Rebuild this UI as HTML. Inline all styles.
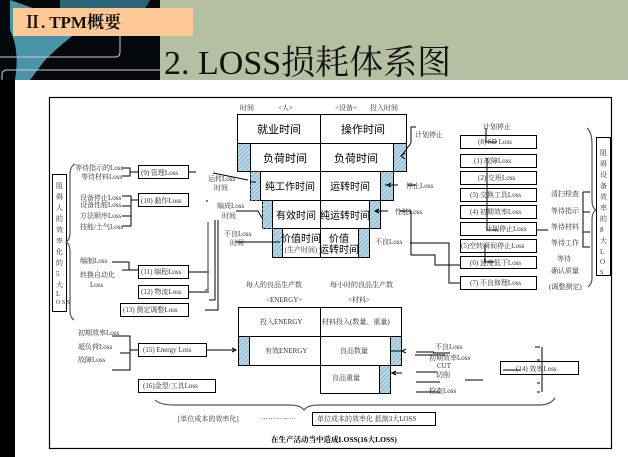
<!DOCTYPE html>
<html><head><meta charset="utf-8"><style>
html,body{margin:0;padding:0;width:628px;height:457px;overflow:hidden;background:#fff}
svg{display:block}
text{font-family:"Liberation Serif","Noto Serif CJK SC",serif;fill:#333}
.s{font-size:7px}
.m{font-size:11px;fill:#000;font-family:"Liberation Sans","Noto Sans CJK SC",sans-serif}
</style></head><body>
<svg width="628" height="457" viewBox="0 0 628 457">
<defs>
<pattern id="h" width="3" height="3" patternUnits="userSpaceOnUse" patternTransform="rotate(45)">
<rect width="3" height="3" fill="#b8d8e8"/><line x1="0" y1="0" x2="0" y2="3" stroke="#6a9ab8" stroke-width="1"/></pattern>
</defs>
<rect x="0" y="0" width="160" height="80" fill="#05080c"/>
<path d="M10 0 Q40 10 60 20 L80 30 Q60 45 45 60 L30 80 L15 80 Q20 50 10 30 Z" fill="#5ab8d0" opacity="0.8"/>
<path d="M60 0 L150 0 Q140 20 120 30 Q80 25 60 10Z" fill="#3a8ca8" opacity="0.7"/>
<path d="M0 57 L115 57 Q120 57 120 52 L120 35" stroke="#ccc" fill="none" stroke-width="1"/>
<path d="M2 80 L2 75 Q2 70 7 70 L160 70" stroke="#ccc" fill="none" stroke-width="1"/>
<rect x="160" y="0" width="468" height="80" fill="#b5c0a2"/>
<rect x="13" y="8" width="180" height="28" fill="#ffc896"/>
<text x="24" y="28" style="font-size:17px;font-weight:bold;fill:#111">Ⅱ. TPM概要</text>
<text x="164" y="74" style="font-size:34px;fill:#111">2. LOSS损耗体系图</text>
<rect x="0" y="80" width="15" height="377" fill="#000"/>
<rect x="49.5" y="97.5" width="562" height="351" fill="none" stroke="#000" stroke-width="1.2"/>
<g stroke="#000" stroke-width="1" fill="none">
<rect x="237.5" y="114.5" width="83" height="29" fill="#fff"/>
<rect x="320.5" y="114.5" width="86" height="29" fill="#fff"/>
<rect x="237.5" y="143.5" width="13" height="28" fill="url(#h)"/>
<rect x="250.5" y="143.5" width="70" height="28" fill="#fff"/>
<rect x="320.5" y="143.5" width="73" height="28" fill="#fff"/>
<rect x="393.5" y="143.5" width="13" height="28" fill="url(#h)"/>
<rect x="250.5" y="171.5" width="10" height="29" fill="url(#h)" stroke-dasharray="3,1"/>
<rect x="260.5" y="171.5" width="60" height="29" fill="#fff"/>
<rect x="320.5" y="171.5" width="60" height="29" fill="#fff"/>
<rect x="380.5" y="171.5" width="13" height="29" fill="url(#h)"/>
<rect x="262.5" y="200.5" width="10" height="28" fill="url(#h)" stroke-dasharray="3,1"/>
<rect x="272.5" y="200.5" width="48" height="28" fill="#fff"/>
<rect x="320.5" y="200.5" width="49" height="28" fill="#fff"/>
<rect x="369.5" y="200.5" width="11" height="28" fill="url(#h)"/>
<rect x="272.5" y="228.5" width="10" height="29" fill="url(#h)"/>
<rect x="282.5" y="228.5" width="38" height="29" fill="#fff"/>
<rect x="320.5" y="228.5" width="38" height="29" fill="#fff"/>
<rect x="358.5" y="228.5" width="11" height="29" fill="url(#h)"/>
<rect x="460.5" y="135.5" width="76" height="13"/>
<rect x="460.5" y="154.5" width="76" height="13"/>
<rect x="460.5" y="171.5" width="76" height="13"/>
<rect x="460.5" y="188.5" width="76" height="13"/>
<rect x="460.5" y="205.5" width="76" height="13"/>
<rect x="460.5" y="222.5" width="76" height="13"/>
<rect x="460.5" y="239.5" width="76" height="13"/>
<rect x="460.5" y="256.5" width="76" height="12"/>
<rect x="460.5" y="276.5" width="76" height="13"/>
<rect x="596.5" y="137.5" width="14" height="138"/>
<rect x="52.5" y="174.5" width="14" height="137"/>
<rect x="138.5" y="165.5" width="50" height="13"/>
<rect x="138.5" y="193.5" width="50" height="13"/>
<rect x="138.5" y="265.5" width="50" height="13"/>
<rect x="138.5" y="285.5" width="50" height="13"/>
<rect x="120.5" y="303.5" width="68" height="13"/>
<rect x="138.5" y="343.5" width="68" height="13"/>
<rect x="138.5" y="379.5" width="77" height="13"/>
<rect x="312.5" y="412.5" width="123" height="13"/>
<rect x="500.5" y="361.5" width="78" height="13"/>
<rect x="238.5" y="307.5" width="82" height="29" fill="#fff"/>
<rect x="320.5" y="307.5" width="81" height="29" fill="#fff"/>
<rect x="238.5" y="336.5" width="11" height="29" fill="url(#h)"/>
<rect x="249.5" y="336.5" width="71" height="29" fill="#fff"/>
<rect x="320.5" y="336.5" width="70" height="29" fill="#fff"/>
<rect x="390.5" y="336.5" width="11" height="29" fill="url(#h)"/>
<rect x="320.5" y="365.5" width="59" height="28" fill="#fff"/>
<rect x="379.5" y="365.5" width="11" height="28" fill="url(#h)"/>
<path d="M122 168 L130 168 L130 176 L122 176 M130 172 L138 172"/>
<path d="M122 196 L131 196 L131 226 L122 226 M122 206 L131 206 M122 216 L131 216 M131 200 L138 200"/>
<path d="M112 262 L129 262 L129 270 L122 270 M129 270 L138 270"/>
<path d="M189 172 L196 172 M213 173 L248 180 M207 202 L207 200 M256 182 L250 182 M236 211 L258 211 M258 211 L262 218 M236 242 L280 242"/>
<path d="M215 220 L215 300 L209 300 M218 220 L218 310 L205 310 M209 272 L189 272 M209 292 L189 292"/>
<path d="M112 336 L130 336 L130 370 L112 370 M120 353 L130 353 M130 350 L138 350 M206 350 L234 350"/>
<path d="M411 143 L411 127 L416 127 M411 143 L402 155"/>
<path d="M416 185 L408 185 M398 185 L385 185"/>
<path d="M400 211 L411 211 L411 255 L435 255 L435 265 L460 265"/>
<path d="M376 211 L388 211"/>
<path d="M410 243 L449 243 L449 283 L460 283"/>
<path d="M486 128 L486 142 L497 142 M487 158 L487 230 L498 230 M485 245 L485 262 L494 262"/>
<path d="M537 230 L548 230"/>
<path d="M583 192 L590 192 M583 212 L590 212 M583 232 L590 232 M583 192 L583 247 L590 247"/>
<path d="M433 353 L450 353 M465 380 L483 380 M503 370 L520 370"/>
<path d="M535 347 L540 347 M537 360 L540 360 M537 383 L540 383 M537 392 L540 392 M542 347 L542 392"/>
<path d="M416 352 L434 352 M416 372 L437 372 M416 382 L440 382 M416 392 L440 392 M415 355 L445 355"/>
<path d="M401 351 L390 351 M390 373 L402 373"/>
</g>
<g stroke="#555" stroke-width="1.2" fill="none">
<path d="M75 164 Q70 166 70 175 L70 232 Q70 240 66 242 Q70 244 70 252 L70 310 Q70 318 74 320"/>
<path d="M587 128 Q592 132 592 145 L592 200 Q592 208 596 210 Q592 212 592 220 L592 278 Q592 284 588 287"/>
<path d="M155 400 Q160 405 175 405 L290 405 Q300 405 304 410 Q308 405 318 405 L540 405 Q550 405 555 398"/>
<path d="M208 222 L208 290 L205 290"/>
</g>
<text class="m" x="279" y="133" text-anchor="middle">就业时间</text>
<text class="m" x="363" y="133" text-anchor="middle">操作时间</text>
<text class="m" x="285" y="162" text-anchor="middle">负荷时间</text>
<text class="m" x="356" y="162" text-anchor="middle">负荷时间</text>
<text class="m" x="290" y="190" text-anchor="middle" style="font-size:10px">纯工作时间</text>
<text class="m" x="350" y="190" text-anchor="middle" style="font-size:10px">运转时间</text>
<text class="m" x="296" y="219" text-anchor="middle" style="font-size:10px">有效时间</text>
<text class="m" x="345" y="219" text-anchor="middle" style="font-size:10px">纯运转时间</text>
<text class="m" x="301" y="242" text-anchor="middle" style="font-size:10px">价值时间</text>
<text class="s" x="301" y="252" text-anchor="middle">(生产时间)</text>
<text class="m" x="339" y="242" text-anchor="middle" style="font-size:10px">价值</text>
<text class="m" x="339" y="253" text-anchor="middle" style="font-size:10px">运转时间</text>
<text class="s" x="240" y="110">时间</text><text class="s" x="278" y="110">&lt;人&gt;</text>
<text class="s" x="335" y="110">&lt;设备&gt;</text><text class="s" x="370" y="110">投入时间</text>
<text class="s" x="415" y="137">计划停止</text>
<text class="s" x="406" y="188">停止Loss</text>
<text class="s" x="395" y="214">性能Loss</text>
<text class="s" x="375" y="244">不良Loss</text>
<text class="s" x="208" y="181">运转Loss</text><text class="s" x="214" y="190">时间</text>
<text class="s" x="217" y="208">编成Loss</text><text class="s" x="222" y="218">时间</text>
<text class="s" x="224" y="236">不良Loss</text><text class="s" x="230" y="245">时间</text>
<text class="s" x="483" y="129">计划停止</text>
<text class="s" x="478" y="144">(8) SD Loss</text>
<text class="s" x="474" y="163">(1) 故障Loss</text>
<text class="s" x="478" y="180">(2) 交班Loss</text>
<text class="s" x="470" y="197">(3) 交换工具Loss</text>
<text class="s" x="470" y="214">(4) 初期效率Loss</text>
<text class="s" x="485" y="231">计划停止Loss</text>
<text class="s" x="461" y="248">(5)空转瞬间停止Loss</text>
<text class="s" x="470" y="265">(6) 速度低下Loss</text>
<text class="s" x="470" y="285">(7) 不良修理Loss</text>
<text class="s" x="551" y="196">清扫检查</text>
<text class="s" x="551" y="213">等待指示</text>
<text class="s" x="551" y="229">等待材料</text>
<text class="s" x="551" y="245">等待工作</text>
<text class="s" x="557" y="261">等待</text>
<text class="s" x="551" y="273">确认质量</text>
<text class="s" x="549" y="289">(调整测定)</text>
<text class="s" x="600" y="155">阻</text><text class="s" x="600" y="166">碍</text><text class="s" x="600" y="177">设</text><text class="s" x="600" y="188">备</text><text class="s" x="600" y="199">效</text><text class="s" x="600" y="210">率</text><text class="s" x="600" y="221">的</text><text class="s" x="600" y="232">8</text><text class="s" x="600" y="243">大</text><text class="s" x="600" y="254">L</text><text class="s" x="600" y="264">O</text><text class="s" x="600" y="274" style="font-size:6px">S</text>
<text class="s" x="56" y="188">阻</text><text class="s" x="56" y="199">碍</text><text class="s" x="56" y="210">人</text><text class="s" x="56" y="221">的</text><text class="s" x="56" y="232">效</text><text class="s" x="56" y="243">率</text><text class="s" x="56" y="254">化</text><text class="s" x="56" y="265">的</text><text class="s" x="56" y="276">5</text><text class="s" x="56" y="287">大</text><text class="s" x="56" y="296">L</text><text class="s" x="56" y="304" style="font-size:6px">O S S</text>
<text class="s" x="75" y="170">等待指示的Loss</text>
<text class="s" x="81" y="179">等待材料Loss</text>
<text class="s" x="141" y="175">(9) 管理Loss</text>
<text class="s" x="80" y="200">设备停止Loss</text>
<text class="s" x="80" y="207">设备性能Loss</text>
<text class="s" x="80" y="218">方法顺序Loss</text>
<text class="s" x="80" y="229">技能/士气Loss</text>
<text class="s" x="141" y="203">(10) 動作Loss</text>
<text class="s" x="80" y="263">编制Loss</text>
<text class="s" x="80" y="277">转换自动化</text>
<text class="s" x="90" y="287">Loss</text>
<text class="s" x="141" y="274">(11) 编程Loss</text>
<text class="s" x="141" y="294">(12) 物流Loss</text>
<text class="s" x="123" y="312">(13) 测定调整Loss</text>
<text class="s" x="78" y="335">初期效率Loss</text>
<text class="s" x="78" y="349">超负荷Loss</text>
<text class="s" x="78" y="362">故障Loss</text>
<text class="s" x="143" y="352">(15) Energy Loss</text>
<text class="s" x="143" y="388">(16)金型/工具Loss</text>
<text class="s" x="246" y="287">每人的良品生产数</text>
<text class="s" x="330" y="287">每小时的良品生产数</text>
<text class="s" x="266" y="302">&lt;ENERGY&gt;</text>
<text class="s" x="348" y="302">&lt;材料&gt;</text>
<text class="s" x="260" y="324">投入ENERGY</text>
<text class="s" x="322" y="324">材料投入(数量、重量)</text>
<text class="s" x="265" y="353">有效ENERGY</text>
<text class="s" x="340" y="353">良品数量</text>
<text class="s" x="332" y="380">良品重量</text>
<text class="s" x="435" y="349">不良Loss</text>
<text class="s" x="429" y="360">初期效率Loss</text>
<text class="s" x="437" y="368">CUT</text>
<text class="s" x="436" y="377">切削</text>
<text class="s" x="429" y="393">检查Loss</text>
<text class="s" x="516" y="371">(14) 效率Loss</text>
<text class="s" x="178" y="421">[单位成本的效率化]</text>
<text class="s" x="261" y="421">···············</text>
<text class="s" x="317" y="421">单位成本的效率化  抵制3大LOSS</text>
<text x="271" y="442" style="font-size:7.5px;font-weight:bold;fill:#000">在生产活动当中造成LOSS(16大LOSS)</text>
<g fill="none" stroke="#000" stroke-width="1"><path d="M405 153 L401 156 L405 159 M391 183 L387 185 L391 187 M379 209 L375 211 L379 213 M232 348 L236 350 L232 352 M406 349 L402 351 L406 353 M396 371 L392 373 L396 375"/></g>
</svg>
</body></html>
